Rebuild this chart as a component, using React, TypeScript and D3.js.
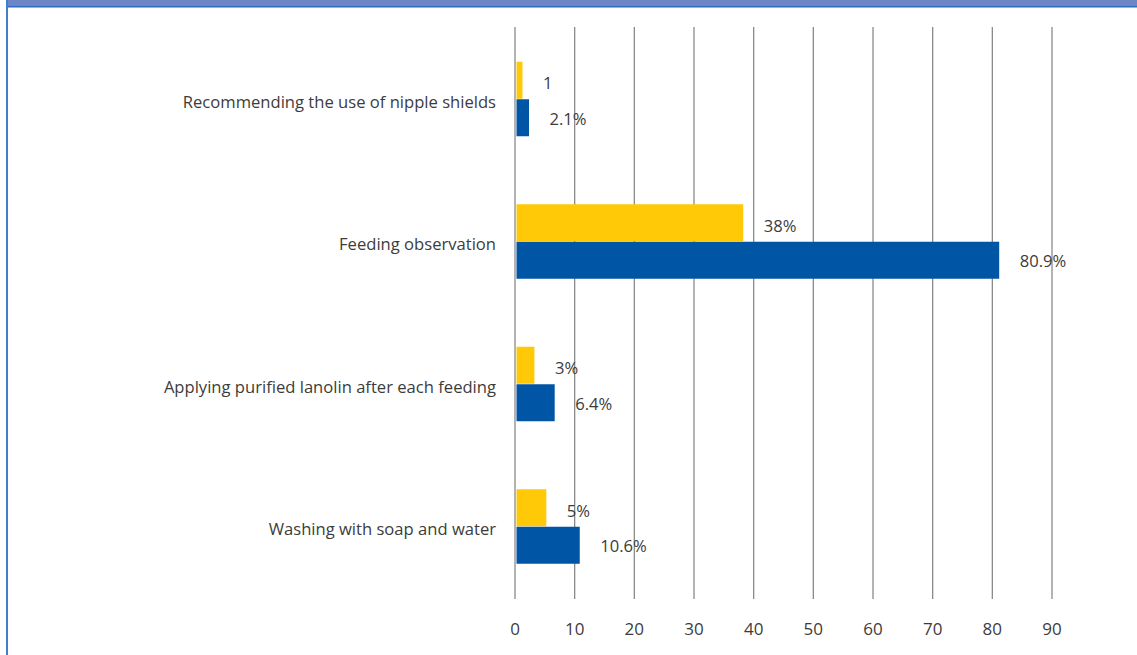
import React from "react";
import * as d3 from "d3";

const categories = [
  "Recommending the use of nipple shields",
  "Feeding observation",
  "Applying purified lanolin after each feeding",
  "Washing with soap and water",
];
const yellowValues = [1, 38, 3, 5];
const yellowLabels = ["1", "38%", "3%", "5%"];
const blueValues = [2.1, 80.9, 6.4, 10.6];
const blueLabels = ["2.1%", "80.9%", "6.4%", "10.6%"];
const tickValues = [0, 10, 20, 30, 40, 50, 60, 70, 80, 90];

const W = 1137;
const H = 655;
const FONT = "'Open Sans', 'Noto Sans', sans-serif";
const TEXT = "#3c3c3c";
const FS = 16.6;

export default function App() {
  const x = d3.scaleLinear().domain([0, 90]).range([515, 1052]);
  const y = d3.scaleBand<string>().domain(categories).range([28, 598]);
  const sub = d3.scaleBand<string>().domain(["y", "b"]).range([-37.5, 37.5]);
  const barH = sub.bandwidth() - 0.5;

  const series = [
    { key: "y", values: yellowValues, labels: yellowLabels, color: "#FFC907" },
    { key: "b", values: blueValues, labels: blueLabels, color: "#0055A5" },
  ];

  return (
    <div style={{ position: "fixed", left: 0, top: 0, width: W, height: H, background: "#fff" }}>
      <svg width={W} height={H} style={{ display: "block" }}>
        {/* frame: header strip and left rule */}
        <rect x={6} y={0} width={W - 6} height={6} fill="#6E86C5" />
        <rect x={6} y={6} width={W - 6} height={1.5} fill="#2C6BC0" />
        <rect x={6} y={0} width={2} height={H} fill="#3F7FCB" />

        {/* vertical gridlines */}
        {tickValues.map((t) => (
          <line key={t} x1={x(t)} x2={x(t)} y1={27} y2={599} stroke="#8A8A8A" strokeWidth={1.3} />
        ))}

        {/* bars */}
        {series.map((s) =>
          categories.map((c, i) => {
            const c0 = (y(c) ?? 0) + y.bandwidth() / 2;
            const top = c0 + (sub(s.key) ?? 0);
            return (
              <rect
                key={s.key + i}
                x={x(0) + 1.5}
                y={top}
                width={x(s.values[i]) - x(0)}
                height={barH}
                fill={s.color}
              />
            );
          })
        )}

        {/* value labels */}
        {series.map((s) =>
          categories.map((c, i) => {
            const c0 = (y(c) ?? 0) + y.bandwidth() / 2;
            const mid = c0 + (sub(s.key) ?? 0) + barH / 2;
            return (
              <text
                key={"l" + s.key + i}
                x={x(s.values[i]) + 22}
                y={mid + (s.key === "y" ? 2.5 : 0.5)}
                dominantBaseline="central"
                fontFamily={FONT}
                fontSize={FS}
                fill={TEXT}
              >
                {s.labels[i]}
              </text>
            );
          })
        )}

        {/* category labels */}
        {categories.map((c) => (
          <text
            key={c}
            x={496}
            y={(y(c) ?? 0) + y.bandwidth() / 2 + 2}
            textAnchor="end"
            dominantBaseline="central"
            fontFamily={FONT}
            fontSize={FS}
            fill={TEXT}
          >
            {c}
          </text>
        ))}

        {/* axis tick labels */}
        {tickValues.map((t) => (
          <text
            key={"t" + t}
            x={x(t)}
            y={628}
            textAnchor="middle"
            dominantBaseline="central"
            fontFamily={FONT}
            fontSize={17}
            fill={TEXT}
          >
            {t}
          </text>
        ))}
      </svg>
    </div>
  );
}
